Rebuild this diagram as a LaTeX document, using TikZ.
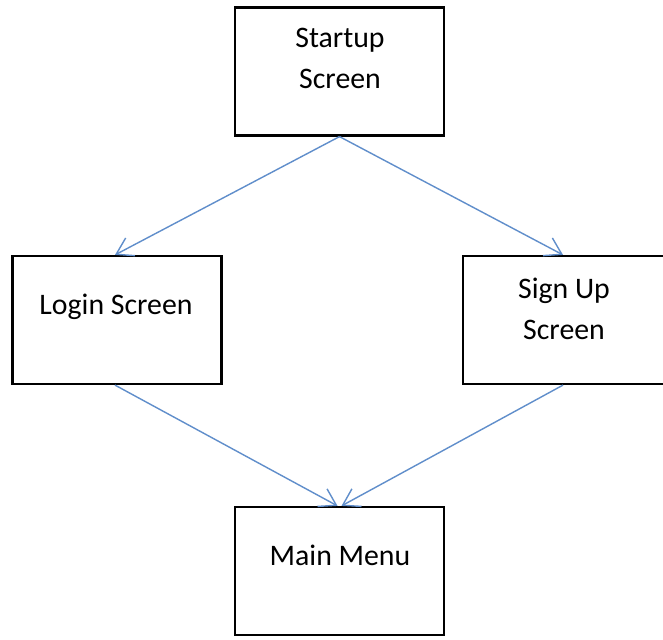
\documentclass[tikz,border=0pt]{standalone}
\usepackage{fontspec}
\setmainfont{Carlito}
\usetikzlibrary{arrows.meta}
\definecolor{flowblue}{RGB}{96,142,203}
\tikzset{
  screenbox/.style={draw=black, line width=2.2pt, fill=white, inner sep=0pt,
    minimum width=209pt, minimum height=128pt},
  boxtext/.style={anchor=base, inner sep=0pt, font=\fontsize{29.8}{36}\selectfont},
  flow/.style={draw=flowblue, line width=1.4pt,
    -{Straight Barb[length=16pt, width=20pt, line width=1.4pt]}}
}
\begin{document}
\begin{tikzpicture}[x=1pt, y=-1pt]
  \clip (0,0) rectangle (663,639);
  \fill[white] (0,0) rectangle (663,639);

  % screens
  \node[screenbox] (startup) at (339.5,71.5) {};
  \node[screenbox] (login)   at (117,320)    {};
  \node[screenbox] (signup)  at (567.5,320)  {};
  \node[screenbox] (mainmenu) at (339.5,571) {};

  % labels
  \node[boxtext] (startupA) at (340,48)  {Startup};
  \node[boxtext] (startupB) at (340,89)  {Screen};
  \node[boxtext] (loginA)   at (116,314) {Login Screen};
  \node[boxtext] (signupA)  at (564,298) {Sign Up};
  \node[boxtext] (signupB)  at (564,339) {Screen};
  \node[boxtext] (mainA)    at (340,565) {Main Menu};

  % navigation flow
  \draw[flow] (startup.south) -- ([xshift=-2pt]login.north);
  \draw[flow] (startup.south) -- ([xshift=-4.5pt]signup.north);
  \draw[flow] ([xshift=-2pt]login.south) -- ([xshift=-2pt]mainmenu.north);
  \draw[flow] ([xshift=-4.5pt]signup.south) -- ([xshift=2pt]mainmenu.north);
\end{tikzpicture}
\end{document}
